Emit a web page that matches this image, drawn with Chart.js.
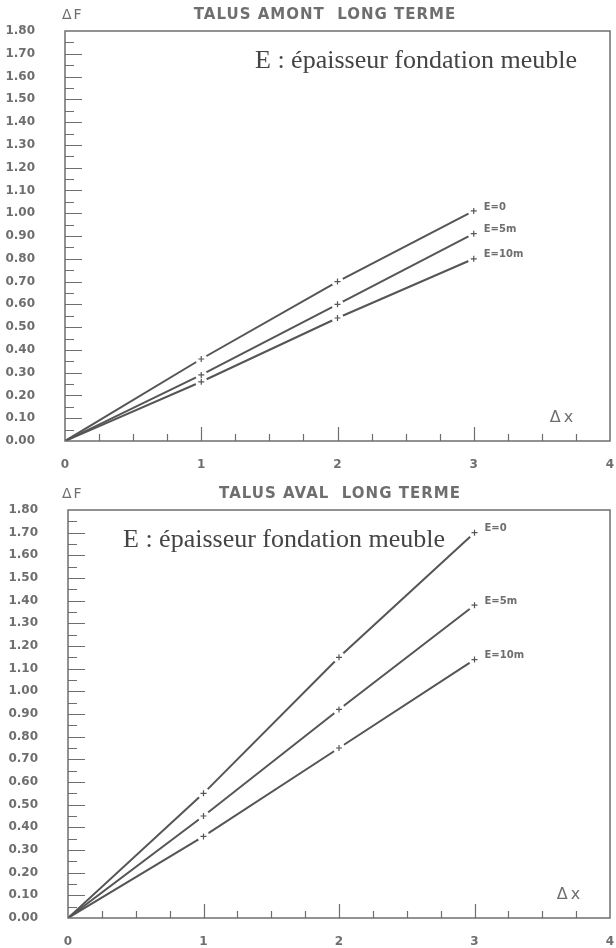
<!DOCTYPE html>
<html>
<head>
<meta charset="utf-8">
<script src="https://cdn.jsdelivr.net/npm/chart.js@4.4.1/dist/chart.umd.min.js"></script>
<style>
  html, body { margin: 0; padding: 0; background: #fff; }
  #wrap { position: relative; width: 616px; height: 948px; }
  canvas { position: absolute; left: 0; }
</style>
</head>
<body>
<div id="wrap">
  <canvas id="amont" width="616" height="474" style="top:0"></canvas>
  <canvas id="aval" width="616" height="474" style="top:474px"></canvas>
</div>
<script>
// ΔX values where ΔF was computed
const xValues = [0, 1, 2, 3];
const seriesLabels = ["E=0", "E=5m", "E=10m"];

// talus amont, long terme
const amontE0 = [0, 0.36, 0.70, 1.01];
const amontE5 = [0, 0.29, 0.60, 0.91];
const amontE10 = [0, 0.26, 0.54, 0.80];

// talus aval, long terme
const avalE0 = [0, 0.55, 1.15, 1.70];
const avalE5 = [0, 0.45, 0.92, 1.38];
const avalE10 = [0, 0.36, 0.75, 1.14];

// axes
const yMax = 1.8, yStep = 0.1;
const xTickValues = [0, 1, 2, 3, 4];

const INK = "#555";
const GREY = "#6e6e6e";

Chart.defaults.font.family = "DejaVu Sans";

const toPoints = arr => xValues.map((x, i) => ({ x: x, y: arr[i] }));

// frame, inner tick marks, titles and curve labels
const framePlugin = {
  id: "frame",
  afterDraw(chart, args, o) {
    const { ctx, chartArea: a } = chart;
    const x = chart.scales.x, y = chart.scales.y;
    ctx.save();
    ctx.strokeStyle = GREY;
    ctx.lineWidth = 1.5;
    ctx.strokeRect(a.left, a.top, a.right - a.left, a.bottom - a.top);

    ctx.lineWidth = 1.2;
    ctx.beginPath();
    for (let i = 1; i < Math.round(yMax / 0.05); i++) {
      const py = Math.round(y.getPixelForValue(i * 0.05)) + 0.5;
      const len = i % 2 === 0 ? 17 : 9;
      ctx.moveTo(a.left, py);
      ctx.lineTo(a.left + len, py);
    }
    const xMax = xTickValues[xTickValues.length - 1];
    for (let i = 1; i < xMax * 4; i++) {
      const px = Math.round(x.getPixelForValue(i * 0.25)) + 0.5;
      const len = i % 4 === 0 ? 14 : 7;
      ctx.moveTo(px, a.bottom);
      ctx.lineTo(px, a.bottom - len);
    }
    ctx.stroke();

    ctx.fillStyle = GREY;
    ctx.textBaseline = "middle";
    ctx.font = "14px DejaVu Sans";
    ctx.textAlign = "left";
    ctx.letterSpacing = "2px";
    ctx.fillText("ΔF", 62, o.titleY);

    ctx.font = "bold 15px DejaVu Sans";
    ctx.letterSpacing = "1px";
    ctx.textAlign = "center";
    ctx.fillText(o.title, o.titleX, o.titleY);

    ctx.font = "16px DejaVu Sans";
    ctx.letterSpacing = "3px";
    ctx.textAlign = "center";
    ctx.fillText("Δx", a.right - o.dxOffset, y.getPixelForValue(0.1));

    ctx.letterSpacing = "0px";
    ctx.fillStyle = "#444";
    ctx.textAlign = "left";
    ctx.textBaseline = "alphabetic";
    ctx.font = "26px Liberation Serif";
    ctx.fillText("E : épaisseur fondation meuble", o.noteX, o.noteY);

    // curve names next to the last point of each line
    ctx.fillStyle = GREY;
    ctx.font = "bold 10px DejaVu Sans";
    ctx.textBaseline = "middle";
    chart.data.datasets.forEach((ds, i) => {
      if (!ds.curveName) return;
      const pts = chart.getDatasetMeta(i).data;
      const last = pts[pts.length - 1];
      ctx.fillText(ds.curveName, last.x + 10, last.y - 4);
    });
    ctx.restore();
  }
};

function makeChart(id, series, o) {
  const maskRadius = [0, 6, 6, 6];
  const crossRadius = [0, 3, 3, 3];
  const lines = series.map((arr, i) => ({
    data: toPoints(arr),
    curveName: seriesLabels[i],
    borderColor: INK,
    borderWidth: 2,
    pointStyle: "circle",
    pointRadius: maskRadius,
    pointBackgroundColor: "#fff",
    pointBorderWidth: 0,
    order: 2
  }));
  const crosses = series.map(arr => ({
    data: toPoints(arr),
    showLine: false,
    pointStyle: "cross",
    pointRadius: crossRadius,
    pointBorderColor: INK,
    pointBorderWidth: 1.2,
    order: 1
  }));

  return new Chart(document.getElementById(id), {
    type: "line",
    data: { datasets: lines.concat(crosses) },
    plugins: [framePlugin],
    options: {
      responsive: false,
      animation: false,
      events: [],
      layout: { padding: { top: o.top, right: o.right, left: 0, bottom: 0 } },
      plugins: {
        legend: { display: false },
        tooltip: { enabled: false },
        frame: o
      },
      scales: {
        x: {
          type: "linear",
          min: 0,
          max: xTickValues[xTickValues.length - 1],
          afterFit: s => {
            s.height = o.xHeight;
            s.paddingLeft = 0;
            s.paddingRight = 0;
          },
          afterBuildTicks: s => { s.ticks = xTickValues.map(v => ({ value: v })); },
          grid: { display: false },
          border: { display: false },
          ticks: {
            color: GREY,
            font: { size: 12, weight: "bold" },
            padding: 9,
            maxRotation: 0,
            callback: v => String(v)
          }
        },
        y: {
          min: 0,
          max: yMax,
          afterFit: s => {
            s.width = o.left;
            s.paddingTop = 0;
            s.paddingBottom = 0;
          },
          grid: { display: false },
          border: { display: false },
          ticks: {
            stepSize: yStep,
            color: GREY,
            font: { size: 12, weight: "bold" },
            padding: 22,
            callback: v => v.toFixed(2)
          }
        }
      }
    }
  });
}

makeChart("amont", [amontE0, amontE5, amontE10], {
  title: "TALUS AMONT  LONG TERME",
  titleX: 325, titleY: 15,
  noteX: 255, noteY: 68,
  dxOffset: 47,
  top: 31, right: 4, left: 65, xHeight: 33
});

makeChart("aval", [avalE0, avalE5, avalE10], {
  title: "TALUS AVAL  LONG TERME",
  titleX: 340, titleY: 20,
  noteX: 123, noteY: 73,
  dxOffset: 40,
  top: 36, right: 3, left: 68, xHeight: 30
});
</script>
</body>
</html>
